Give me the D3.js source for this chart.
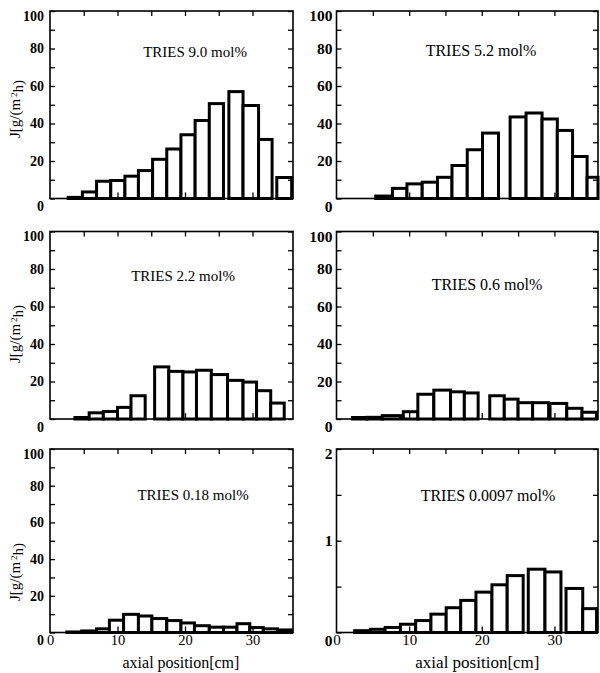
<!DOCTYPE html>
<html>
<head>
<meta charset="utf-8">
<script src="https://cdn.jsdelivr.net/npm/d3@7"></script>
<style>
  body { margin: 0; background: #fff; }
  svg { display: block; }
</style>
</head>
<body>
<svg id="chart" width="600" height="673"></svg>
<script>
// ---------------- DATA ----------------
const titles = ["TRIES 9.0 mol%", "TRIES 5.2 mol%", "TRIES 2.2 mol%",
                "TRIES 0.6 mol%", "TRIES 0.18 mol%", "TRIES 0.0097 mol%"];

// axial position of each bar (cm): start and end, and flux J [g/(m2 h)]
const startsP1 = [2.7, 4.8, 6.9, 9.0, 11.1, 13.1, 15.2, 17.3, 19.4, 21.5, 23.6, 26.5, 28.6, 30.9, 33.6];
const endsP1   = [4.8, 6.9, 9.0, 11.1, 13.1, 15.2, 17.3, 19.4, 21.5, 23.6, 25.7, 28.6, 30.9, 32.9, 35.8];
const fluxP1   = [0.6, 3.5, 9.2, 9.6, 11.9, 14.9, 20.9, 26.4, 34.0, 41.6, 50.6, 57.0, 49.6, 31.5, 11.2];

const startsP2 = [5.4, 7.7, 9.7, 11.8, 13.9, 15.9, 18.0, 20.1, 23.9, 26.1, 28.3, 30.4, 32.5, 34.5];
const endsP2   = [7.7, 9.7, 11.8, 13.9, 15.9, 18.0, 20.1, 22.3, 26.1, 28.3, 30.4, 32.5, 34.5, 36.0];
const fluxP2   = [1.3, 5.4, 7.8, 8.7, 11.3, 17.6, 26.0, 34.9, 43.5, 45.6, 42.4, 36.3, 22.4, 11.3];

const startsP3 = [3.7, 5.8, 7.9, 10.0, 12.0, 15.5, 17.6, 19.7, 21.7, 23.9, 26.3, 28.6, 30.6, 32.7];
const endsP3   = [5.8, 7.9, 10.0, 12.0, 14.1, 17.6, 19.7, 21.7, 23.9, 26.3, 28.6, 30.6, 32.7, 34.7];
const fluxP3   = [0.8, 3.3, 4.0, 6.2, 12.4, 27.8, 25.4, 25.1, 26.0, 23.7, 20.6, 19.7, 15.1, 8.5];

const startsP4 = [2.2, 4.2, 6.3, 9.2, 11.2, 13.4, 15.7, 17.6, 21.1, 23.1, 25.0, 27.0, 29.4, 31.7, 33.8];
const endsP4   = [4.2, 6.3, 8.8, 11.2, 13.4, 15.7, 17.6, 19.5, 23.1, 25.0, 27.0, 29.2, 31.7, 33.8, 35.8];
const fluxP4   = [0.8, 0.9, 1.8, 3.9, 13.2, 15.4, 14.5, 13.9, 12.4, 10.6, 8.7, 8.7, 8.3, 5.7, 3.6];

const startsP5 = [2.5, 4.7, 6.9, 8.8, 10.9, 13.1, 15.1, 17.3, 19.4, 21.4, 23.6, 25.7, 27.7, 29.6, 31.6, 33.7];
const endsP5   = [4.7, 6.9, 8.8, 10.9, 13.1, 15.1, 17.3, 19.4, 21.4, 23.6, 25.7, 27.7, 29.6, 31.6, 33.7, 35.8];
const fluxP5   = [0.3, 0.85, 2.0, 6.7, 9.9, 9.0, 7.6, 6.5, 5.2, 3.7, 2.9, 2.9, 4.8, 2.7, 2.0, 1.4];

const startsP6 = [2.5, 4.7, 6.7, 8.8, 10.9, 13.0, 15.1, 17.1, 19.2, 21.4, 23.5, 26.4, 28.7, 31.6, 33.9];
const endsP6   = [4.7, 6.7, 8.8, 10.9, 13.0, 15.1, 17.1, 19.2, 21.4, 23.5, 25.7, 28.7, 30.9, 33.9, 35.8];
const fluxP6   = [0.02, 0.035, 0.055, 0.09, 0.13, 0.2, 0.27, 0.35, 0.44, 0.52, 0.62, 0.69, 0.66, 0.48, 0.26];

const xDomain = [0, 36];
const xTickLabels = [0, 10, 20, 30];
const xTopTicks = [5, 10, 15, 20, 25, 30];
const xBottomTicks = [10, 20, 30];
const yMax100 = 100, yMinor100 = [0,10,20,30,40,50,60,70,80,90,100], yLabels100 = [0,20,40,60,80,100];
const yMax2 = 2, yMinor2 = [0,0.5,1,1.5,2], yLabels2 = [0,1,2];
const xAxisTitle = "axial position[cm]";

// ---------------- LAYOUT / STYLE ----------------
const FONT = "'Liberation Serif','Times New Roman',Times,serif";
const cols = [
  { x0: 50, x1: 293, pad: 6, titleFs: 15, yFs: 14, xFs: 14.5, axFs: 16 },
  { x0: 336.5, x1: 598, pad: 4, titleFs: 16, yFs: 15.5, xFs: 15, axFs: 17 }
];
const rows = [
  { y0: 198.5, y1: 11, labelY: 109 },
  { y0: 419, y1: 231.5, labelY: 334 },
  { y0: 632.5, y1: 449, labelY: 572 }
];
const panels = [
  { col: 0, row: 0, tx: 195, ty: 52, s: startsP1, e: endsP1, v: fluxP1, ymax: yMax100, minor: yMinor100, labs: yLabels100 },
  { col: 1, row: 0, tx: 481, ty: 50, s: startsP2, e: endsP2, v: fluxP2, ymax: yMax100, minor: yMinor100, labs: yLabels100 },
  { col: 0, row: 1, tx: 183, ty: 276, s: startsP3, e: endsP3, v: fluxP3, ymax: yMax100, minor: yMinor100, labs: yLabels100 },
  { col: 1, row: 1, tx: 487, ty: 284, s: startsP4, e: endsP4, v: fluxP4, ymax: yMax100, minor: yMinor100, labs: yLabels100 },
  { col: 0, row: 2, tx: 193, ty: 495, s: startsP5, e: endsP5, v: fluxP5, ymax: yMax100, minor: yMinor100, labs: yLabels100 },
  { col: 1, row: 2, tx: 488, ty: 495, s: startsP6, e: endsP6, v: fluxP6, ymax: yMax2, minor: yMinor2, labs: yLabels2 }
];

const svg = d3.select("#chart");
svg.append("rect").attr("width", 600).attr("height", 673).attr("fill", "#fff");

panels.forEach((p, i) => {
  const c = cols[p.col], r = rows[p.row];
  const x = d3.scaleLinear().domain(xDomain).range([c.x0, c.x1]);
  const y = d3.scaleLinear().domain([0, p.ymax]).range([r.y0, r.y1]);
  const g = svg.append("g");

  const bars = p.s.map((s, j) => ({ s, e: p.e[j], v: p.v[j] }));
  g.selectAll("rect.bar").data(bars).join("rect")
    .attr("class", "bar")
    .attr("x", d => x(d.s))
    .attr("width", d => x(Math.min(d.e, xDomain[1])) - x(d.s))
    .attr("y", d => y(d.v))
    .attr("height", d => y(0) - y(d.v))
    .attr("fill", "#fff").attr("stroke", "#000").attr("stroke-width", 3);

  // frame
  g.append("rect")
    .attr("x", c.x0).attr("y", r.y1)
    .attr("width", c.x1 - c.x0).attr("height", r.y0 - r.y1)
    .attr("fill", "none").attr("stroke", "#000").attr("stroke-width", 1.6);

  const fmt = d3.format("d");
  // left axis
  const yl = g.append("g").attr("transform", `translate(${c.x0},0)`)
    .call(d3.axisLeft(y).tickValues(p.minor).tickSize(-5).tickPadding(c.pad)
      .tickFormat(d => p.labs.includes(d) ? fmt(d) : ""));
  yl.select(".domain").remove();
  yl.attr("font-family", FONT).attr("font-size", c.yFs).attr("font-weight", "bold");
  yl.selectAll("line").attr("stroke-width", 1.3);
  yl.selectAll("text").attr("fill", "#000")
    .attr("y", d => d === 0 ? 8 : (d === p.ymax ? 5 : 0));

  // right axis ticks
  const yr = g.append("g").attr("transform", `translate(${c.x1},0)`)
    .call(d3.axisRight(y).tickValues(p.minor).tickSize(-5).tickFormat(""));
  yr.select(".domain").remove();
  yr.selectAll("line").attr("stroke-width", 1.3);

  // top ticks
  const xt = g.append("g").attr("transform", `translate(0,${r.y1})`)
    .call(d3.axisTop(x).tickValues(xTopTicks).tickSize(-5).tickFormat(""));
  xt.select(".domain").remove();
  xt.selectAll("line").attr("stroke-width", 1.3);

  // bottom ticks
  const xbT = g.append("g").attr("transform", `translate(0,${r.y0})`)
    .call(d3.axisBottom(x).tickValues(xBottomTicks).tickSize(-6).tickFormat(""));
  xbT.select(".domain").remove();
  xbT.selectAll("line").attr("stroke-width", 1.3);

  // bottom labels (last row only)
  if (p.row === 2) {
    const xb = g.append("g").attr("transform", `translate(0,${r.y0})`)
      .call(d3.axisBottom(x).tickValues(xTickLabels).tickSize(0).tickPadding(2).tickFormat(fmt));
    xb.select(".domain").remove();
    xb.attr("font-family", FONT).attr("font-size", c.xFs);
    xb.selectAll("text").attr("fill", "#000");
    g.append("text")
      .attr("x", x(19.4)).attr("y", 662).attr("dy", "0.35em")
      .attr("text-anchor", "middle")
      .attr("font-family", FONT).attr("font-size", c.axFs)
      .text(xAxisTitle);
  }

  // panel title
  g.append("text")
    .attr("x", p.tx).attr("y", p.ty).attr("dy", "0.35em")
    .attr("text-anchor", "middle")
    .attr("font-family", FONT).attr("font-size", c.titleFs)
    .text(titles[i]);

  // y axis title (left column only)
  if (p.col === 0) {
    const t = g.append("text")
      .attr("transform", `translate(15,${r.labelY}) rotate(-90)`)
      .attr("dy", "0.35em")
      .attr("text-anchor", "middle")
      .attr("font-family", FONT).attr("font-size", 15);
    t.append("tspan").text("J[g/(m");
    t.append("tspan").attr("dx", 2).attr("dy", "-0.4em").attr("font-size", 9).text("2");
    t.append("tspan").attr("dy", "0.4em").text("h)");
  }
});
</script>
</body>
</html>
